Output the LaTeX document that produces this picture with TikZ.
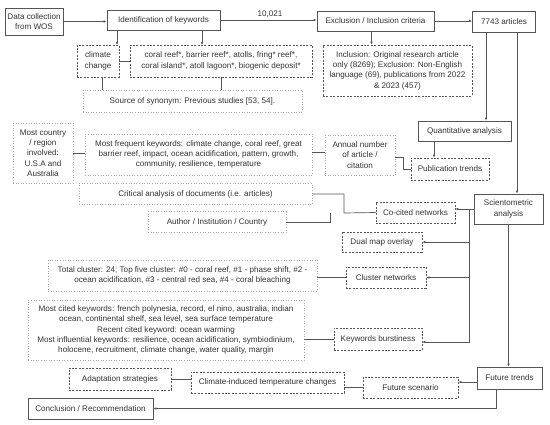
\documentclass[tikz,border=0pt]{standalone}
\usepackage{fontspec}
\setmainfont{Liberation Sans}
\usetikzlibrary{arrows.meta}

\definecolor{ink}{HTML}{333333}
\definecolor{edge}{HTML}{555555}
\definecolor{faint}{HTML}{A8A8A8}

\begin{document}
\begin{tikzpicture}[x=1pt,y=-1pt,
    font=\fontsize{8.1}{10.3}\selectfont, text=ink,
    base/.style={align=center,inner sep=1pt},
    solidbox/.style={base,draw=edge,line width=0.8pt},
    dashbox/.style={base,draw=edge,line width=0.7pt,dash pattern=on 2pt off 1.4pt},
    dotbox/.style={base,draw=faint,line width=0.6pt,dotted},
    sz/.style 2 args={minimum width=#1pt,minimum height=#2pt},
    link/.style={draw=edge,line width=0.7pt},
    arr/.style={link,-{Latex[length=3pt,width=2.6pt]}}]
    \useasboundingbox (0,0) rectangle (550,424);

    % Collection and screening
    \node[solidbox,sz={58}{27}] (wos) at (34,21.5) {Data collection\\from WOS};
    \node[solidbox,sz={113}{20}] (ident) at (163.5,20) {Identification of keywords};
    \node[solidbox,sz={117}{20}] (excl) at (375.5,21) {Exclusion / Inclusion criteria};
    \node[solidbox,sz={63}{21}] (arts) at (504,21.5) {7743 articles};
    \node (cnt) at (270,14) {10,021};

    \node[dashbox,sz={42}{32}] (cc) at (98,61) {climate\\change};
    \node[dashbox,sz={182}{32}] (kw) at (221,61) {coral reef*, barrier reef*, atolls, fring* reef*,\\coral island*, atoll lagoon*, biogenic deposit*};
    \node[dashbox,sz={149}{51}] (incl) at (397.5,70.5) {Inclusion: Original research article\\only (8269); Exclusion: Non-English\\language (69), publications from 2022\\\& 2023 (457)};
    \node[dotbox,sz={219}{22}] (syn) at (192.5,101) {Source of synonym: Previous studies [53, 54].};

    % Quantitative analysis
    \node[solidbox,sz={93}{20}] (quant) at (464.5,131) {Quantitative analysis};
    \node[dotbox,sz={60}{60}] (cntry) at (43,153) {Most country\\/ region\\involved:\\U.S.A and\\Australia};
    \node[dotbox,sz={227}{41}] (freq) at (198.5,154.5) {Most frequent keywords: climate change, coral reef, great\\barrier reef, impact, ocean acidification, pattern, growth,\\community, resilience, temperature};
    \node[dotbox,sz={70}{40}] (annual) at (360,155) {Annual number\\of article /\\citation};
    \node[dashbox,sz={78}{22}] (pub) at (450,169) {Publication trends};

    % Scientometric analysis
    \node[dotbox,sz={233}{21}] (crit) at (195.5,194) {Critical analysis of documents (i.e. articles)};
    \node[dotbox,sz={138}{21}] (auth) at (217,222) {Author / Institution / Country};
    \node[dashbox,sz={79}{21}] (cocit) at (415.5,212.5) {Co-cited networks};
    \node[solidbox,sz={69}{30}] (sci) at (508.5,209) {Scientometric\\analysis};
    \node[dashbox,sz={80}{20}] (dual) at (382,242) {Dual map overlay};
    \node[dotbox,sz={269}{31}] (total) at (182.5,275.5) {Total cluster: 24; Top five cluster: \#0 - coral reef, \#1 - phase shift, \#2 -\\ocean acidification, \#3 - central red sea, \#4 - coral bleaching};
    \node[dashbox,sz={80}{21}] (clus) at (386,277.5) {Cluster networks};
    \node[dotbox,sz={276}{60}] (cited) at (166,330) {Most cited keywords: french polynesia, record, el nino, australia, indian\\ocean, continental shelf, sea level, sea surface temperature\\Recent cited keyword: ocean warming\\Most influential keywords: resilience, ocean acidification, symbiodinium,\\holocene, recruitment, climate change, water quality, margin};
    \node[dashbox,sz={88}{22}] (burst) at (378,339) {Keywords burstiness};

    % Future trends
    \node[solidbox,sz={65}{22}] (fut) at (509.5,378) {Future trends};
    \node[dashbox,sz={95}{21}] (scen) at (410.5,387.5) {Future scenario};
    \node[dashbox,sz={153}{21}] (clim) at (267.5,382.5) {Climate-induced temperature changes};
    \node[dashbox,sz={102}{22}] (adapt) at (120,379) {Adaptation strategies};
    \node[solidbox,sz={125}{21}] (concl) at (90.5,408.5) {Conclusion / Recommendation};

    % Junction points
    \coordinate (t1) at (117,45);
    \coordinate (t2) at (202,45);
    \coordinate (j1) at (344,213);
    \coordinate (j2) at (330,213);
    \coordinate (tr) at (469,209);

    % Top row
    \draw[arr] (wos.east) -- (wos.east -| ident.west);
    \draw[arr] (ident.east) -- (ident.east -| excl.west);
    \draw[arr] (excl.east) -- (excl.east -| arts.west);
    \draw[arr] (t1 |- ident.south) -- (t1);
    \draw[arr] (t2 |- ident.south) -- (t2);
    \draw[link] (cc.east) -- (cc.east -| kw.west);
    \draw[link] ([xshift=4pt]cc.south) -- ([xshift=4pt]cc.south |- syn.north);
    \draw[link] (kw.south) -- (kw.south |- syn.north);
    \draw[arr] ([xshift=-4pt]excl.south) -- ([xshift=-4pt]excl.south |- incl.north);
    \draw[arr] ([xshift=-18pt]arts.south) -- ([xshift=-18pt]arts.south |- quant.north);
    \draw[arr] ([xshift=13pt]arts.south) -- ([xshift=13pt]arts.south |- sci.north);

    % Quantitative branch
    \draw[arr] ([xshift=-30.5pt]quant.south) -- ([xshift=-30.5pt]quant.south |- pub.north);
    \draw[link] (cntry.east) -- (cntry.east -| freq.west);
    \draw[link] ([yshift=3pt]annual.west) -- ([yshift=3pt]annual.west -| freq.east);
    \draw[link] ([yshift=-2pt]annual.east) -- ++(8,0) |- (pub.west);

    % Scientometric branch
    \draw[link] (crit.east) -| (j1) -- (cocit.west);
    \draw[link] (auth.east) -| (j2);
    \draw[arr] (sci.west) -- (sci.west -| cocit.east);
    \draw[arr] (tr) |- (dual.east);
    \draw[arr] (tr) |- (clus.east);
    \draw[arr] (tr) |- ([yshift=-3pt]burst.east);
    \draw[link] (clus.west) -- (clus.west -| total.east);
    \draw[link] (burst.west) -- (burst.west -| cited.east);

    % Future trends branch
    \draw[arr] (sci.south) -- (sci.south |- fut.north);
    \draw[arr] ([yshift=-4pt]fut.west) -- ([yshift=-4pt]fut.west -| scen.east);
    \draw[link] (scen.west) -- (scen.west -| clim.east);
    \draw[link] (adapt.east) -- (adapt.east -| clim.west);
    \draw[arr] ([xshift=-13.5pt]fut.south) |- (concl.east);
\end{tikzpicture}
\end{document}
